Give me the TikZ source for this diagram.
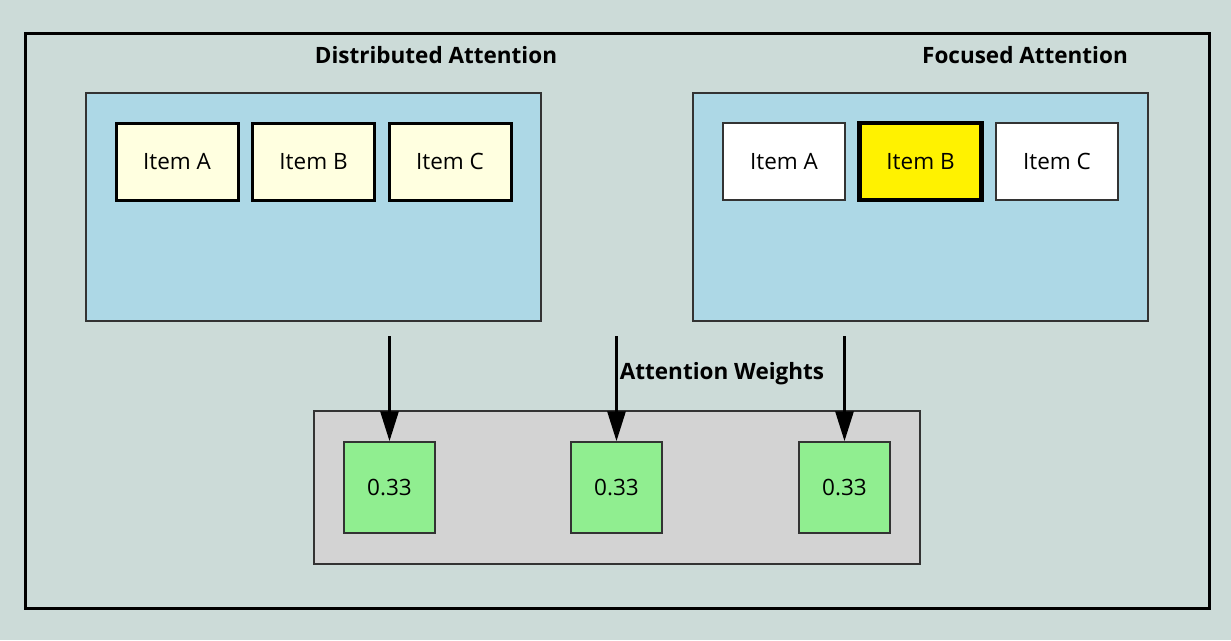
\documentclass[tikz,border=0pt]{standalone}
\usepackage{fontspec}
\setmainfont{Open Sans}
\usetikzlibrary{arrows.meta}
\definecolor{bgteal}{RGB}{204,219,216}
\definecolor{panelblue}{RGB}{173,216,230}
\definecolor{itemyellow}{RGB}{255,255,224}
\definecolor{weightgray}{RGB}{211,211,211}
\definecolor{weightgreen}{RGB}{144,238,144}
\tikzset{
  panel/.style={draw=black!80, line width=1.5pt, fill=panelblue, minimum width=455pt, minimum height=228pt, inner sep=0pt},
  item/.style={draw=black, minimum width=122pt, minimum height=77pt, inner sep=0pt, font=\fontsize{22.5}{27}\selectfont},
  weight/.style={draw=black!80, line width=1.5pt, fill=weightgreen, minimum width=91pt, minimum height=91pt, inner sep=0pt, font=\fontsize{22.5}{27}\selectfont},
  heading/.style={font=\fontsize{22.5}{27}\selectfont\bfseries},
  flow/.style={line width=3pt, -{Triangle[length=30pt,width=18pt]}}
}
\begin{document}
\begin{tikzpicture}[x=1pt,y=-1pt]
        \fill[bgteal] (0,0) rectangle (1231,640);
        \useasboundingbox (0,0) rectangle (1231,640);
        \draw[line width=3pt] (25,33) rectangle (1209,608);

        % headings
        \node[heading] (distTitle) at (436,55) {Distributed Attention};
        \node[heading] (focTitle) at (1025,55) {Focused Attention};

        % distributed panel
        \node[panel] (distPanel) at (313.5,207) {};
        \node[item, fill=itemyellow, line width=3pt] (distA) at (177,161.5) {Item A};
        \node[item, fill=itemyellow, line width=3pt] (distB) at (313.5,161.5) {Item B};
        \node[item, fill=itemyellow, line width=3pt] (distC) at (450,161.5) {Item C};

        % focused panel
        \node[panel] (focPanel) at (920.5,207) {};
        \node[item, fill=white, draw=black!80, line width=1.5pt] (focA) at (784,161.5) {Item A};
        \node[item, fill=yellow, line width=4.5pt] (focB) at (920.5,161.5) {Item B};
        \node[item, fill=white, draw=black!80, line width=1.5pt] (focC) at (1057,161.5) {Item C};

        % weights
        \node[draw=black!80, line width=1.5pt, fill=weightgray, minimum width=606pt, minimum height=153pt] (weightBox) at (617,487.5) {};
        \node[heading] (weightTitle) at (722,374) {Attention Weights};
        \node[weight] (w1) at (389.5,487.5) {0.33};
        \node[weight] (w2) at (616.5,487.5) {0.33};
        \node[weight] (w3) at (844.5,487.5) {0.33};

        \coordinate (s1) at (389.5,336);
        \coordinate (s2) at (616.5,336);
        \coordinate (s3) at (844.5,336);
        \draw[flow] (s1) -- (w1.north);
        \draw[flow] (s2) -- (w2.north);
        \draw[flow] (s3) -- (w3.north);
    \end{tikzpicture}
\end{document}
